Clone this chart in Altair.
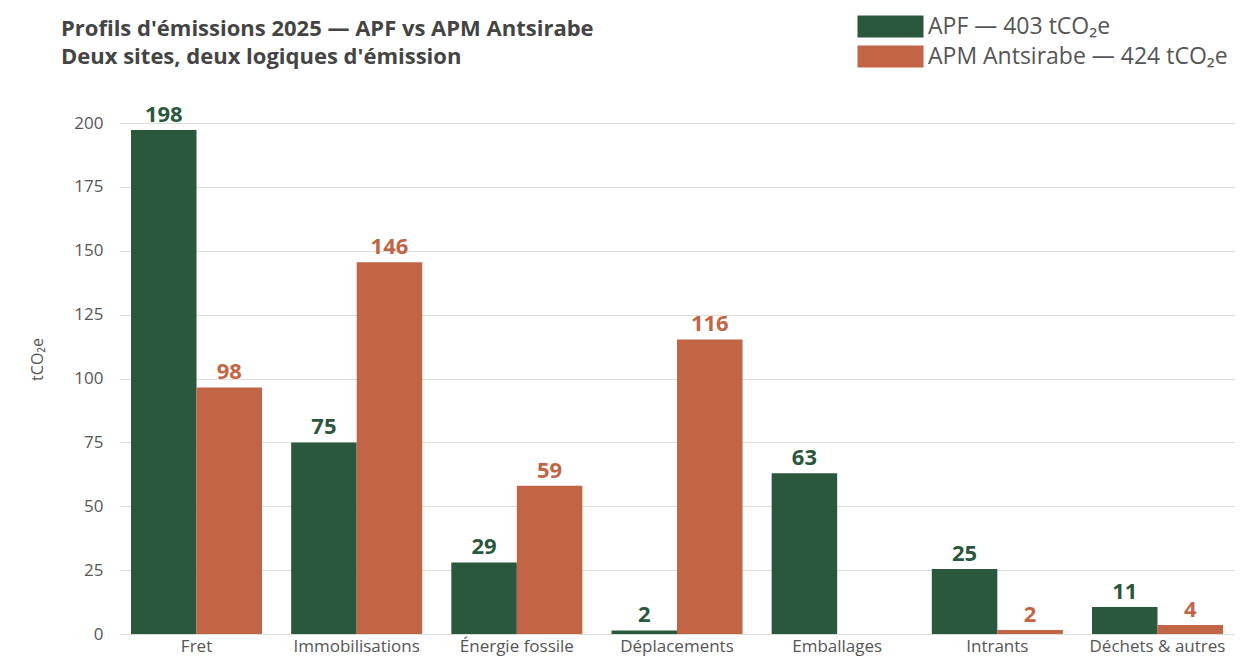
import altair as alt
import pandas as pd

categories = ["Fret", "Immobilisations", "Énergie fossile", "Déplacements",
              "Emballages", "Intrants", "Déchets & autres"]
series = ["APF — 403 tCO₂e", "APM Antsirabe — 424 tCO₂e"]
colors = ["#2b573c", "#c26446"]

apf_values = [197.3, 75.0, 28.0, 1.4, 62.9, 25.4, 10.6]
apm_values = [96.5, 145.5, 58.0, 115.3, None, 1.6, 3.5]
apf_labels = ["198", "75", "29", "2", "63", "25", "11"]
apm_labels = ["98", "146", "59", "116", "", "2", "4"]

y_ticks = [0, 25, 50, 75, 100, 125, 150, 175, 200]

rows = []
for i, cat in enumerate(categories):
    for name, vals, labs in ((series[0], apf_values, apf_labels),
                             (series[1], apm_values, apm_labels)):
        if vals[i] is None:
            continue
        rows.append({"category": cat, "site": name, "value": vals[i], "label": labs[i]})
df = pd.DataFrame(rows)

FONT = "Open Sans"

x_enc = alt.X("category:N", sort=categories,
              scale=alt.Scale(paddingInner=0.182, paddingOuter=0.075),
              axis=alt.Axis(title=None, labelAngle=0, labelFontSize=17, labelColor="#555",
                            labelPadding=4, ticks=False, domain=False, labelFont=FONT,
                            labelOverlap=False))
xoff_enc = alt.XOffset("site:N", sort=series, scale=alt.Scale(paddingInner=0, paddingOuter=0))
y_enc = alt.Y("value:Q", scale=alt.Scale(domain=[0, 200], nice=False),
              axis=alt.Axis(values=y_ticks, title="tCO₂e", titleFontSize=16, titleColor="#555",
                            titleFontWeight="normal", titleFont=FONT, titlePadding=28,
                            titleY=236,
                            labelFontSize=17, labelColor="#555", labelFont=FONT, labelPadding=16,
                            ticks=False, domain=False, gridColor="#dddddd", gridWidth=1))
color_enc = alt.Color("site:N", scale=alt.Scale(domain=series, range=colors),
                      legend=alt.Legend(title=None, orient="none", legendX=760, legendY=-108,
                                        symbolType="M-3,-1H3V1H-3Z", symbolSize=484,
                                        symbolStrokeWidth=0, symbolOpacity=1,
                                        labelFontSize=23, labelColor="#555", labelFont=FONT,
                                        labelOffset=26, rowPadding=6, padding=0,
                                        labelLimit=600))

bars = alt.Chart(df).mark_bar().encode(x=x_enc, xOffset=xoff_enc, y=y_enc, color=color_enc)
texts = alt.Chart(df).mark_text(dy=-8, baseline="alphabetic", fontSize=22, fontWeight="bold",
                                font=FONT).encode(
    x=x_enc, xOffset=xoff_enc, y=y_enc,
    text="label:N",
    color=alt.Color("site:N", scale=alt.Scale(domain=series, range=colors), legend=None))

chart = alt.layer(bars, texts).properties(
    width=1116, height=511,
    title=alt.TitleParams(["Profils d'émissions 2025 — APF vs APM Antsirabe",
                           "Deux sites, deux logiques d'émission"],
                          anchor="start", frame="group", fontSize=22, font=FONT,
                          fontWeight="bold", color="#444", lineHeight=28, dx=-58, offset=-54),
    autosize=alt.AutoSizeParams(type="none"),
    padding={"left": 111, "top": 115, "right": 0, "bottom": 22},
    background="white",
).configure_view(stroke=None)

chart.save("out.html", embed_options={"renderer": "svg", "actions": False})
